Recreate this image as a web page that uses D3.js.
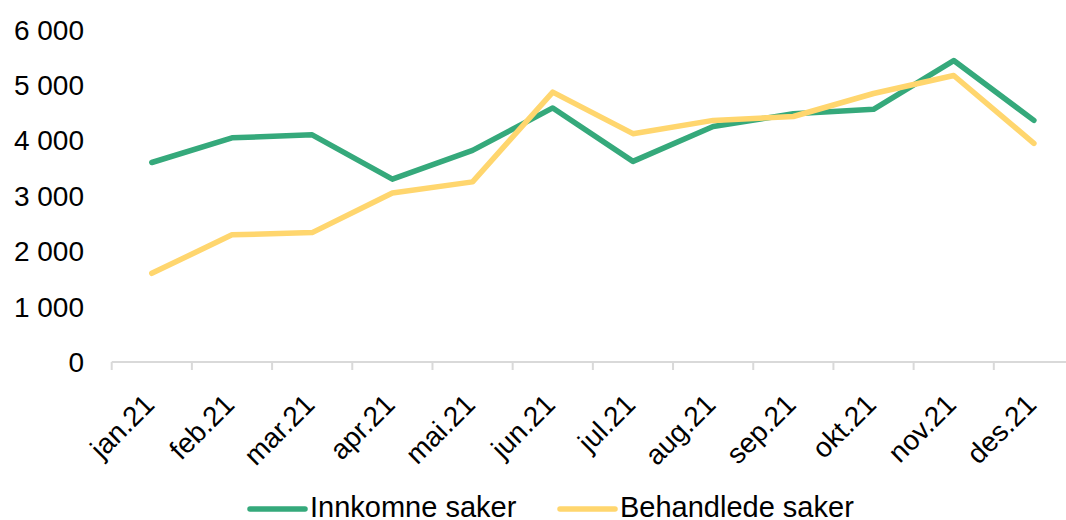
<!DOCTYPE html>
<html>
<head>
<meta charset="utf-8">
<script src="https://cdn.jsdelivr.net/npm/d3@7"></script>
<style>
  html, body { margin: 0; padding: 0; background: #fff; }
  svg { display: block; font-family: "Liberation Sans", Arial, sans-serif; }
</style>
</head>
<body>
<svg id="chart" width="1066" height="520"></svg>
<script>
const categories = ["jan.21","feb.21","mar.21","apr.21","mai.21","jun.21","jul.21","aug.21","sep.21","okt.21","nov.21","des.21"];
const innkomne = [3600, 4045, 4100, 3300, 3820, 4585, 3620, 4250, 4480, 4560, 5440, 4360];
const behandlede = [1600, 2295, 2335, 3050, 3250, 4870, 4120, 4360, 4430, 4845, 5170, 3945];
const seriesNames = ["Innkomne saker", "Behandlede saker"];
const seriesColors = ["#35A97B", "#FFD66E"];
const yTicks = [0, 1000, 2000, 3000, 4000, 5000, 6000];

const svg = d3.select("#chart");
const x = d3.scaleBand().domain(categories).range([111.7, 1074]).padding(0);
const y = d3.scaleLinear().domain([0, 6000]).range([362, 29.5]);
const fmt = v => d3.format(",")(v).replace(/,/g, " ");

// y labels
svg.append("g").selectAll("text").data(yTicks).join("text")
  .attr("x", 84).attr("y", d => y(d)).attr("dy", "0.36em")
  .attr("text-anchor", "end").attr("font-size", 28).attr("fill", "#000")
  .text(fmt);

// x axis
const xAxis = svg.append("g").attr("transform", "translate(0,362)");
xAxis.append("line").attr("x1", x.range()[0]).attr("x2", x.range()[1])
  .attr("y1", 0).attr("y2", 0).attr("stroke", "#D9D9D9").attr("stroke-width", 2);
const tickPos = categories.map(c => x(c)).concat([x.range()[1]]);
xAxis.selectAll(".tk").data(tickPos).join("line").attr("class", "tk")
  .attr("x1", d => d).attr("x2", d => d).attr("y1", 0).attr("y2", 8)
  .attr("stroke", "#D9D9D9").attr("stroke-width", 2);
xAxis.selectAll(".lbl").data(categories).join("text").attr("class", "lbl")
  .attr("transform", d => `translate(${x(d) + x.bandwidth()/2 - 3},${37}) rotate(-45)`)
  .attr("text-anchor", "end").attr("dy", "0.36em")
  .attr("font-size", 28).attr("fill", "#000").text(d => d);

// lines
const line = d3.line().x((d, i) => x(categories[i]) + x.bandwidth()/2).y(d => y(d));
[innkomne, behandlede].forEach((s, k) => {
  svg.append("path").datum(s).attr("d", line).attr("fill", "none")
    .attr("stroke", seriesColors[k]).attr("stroke-width", 5.5)
    .attr("stroke-linejoin", "round").attr("stroke-linecap", "round");
});

// legend
const legendX = [250, 560];
seriesNames.forEach((n, k) => {
  const g = svg.append("g").attr("transform", `translate(${legendX[k]},509)`);
  g.append("line").attr("x1", 0).attr("x2", 55).attr("y1", 0).attr("y2", 0)
    .attr("stroke", seriesColors[k]).attr("stroke-width", 5.5).attr("stroke-linecap", "round");
  g.append("text").attr("x", 60).attr("y", 8)
    .attr("font-size", 29).attr("fill", "#000").text(n);
});
</script>
</body>
</html>
